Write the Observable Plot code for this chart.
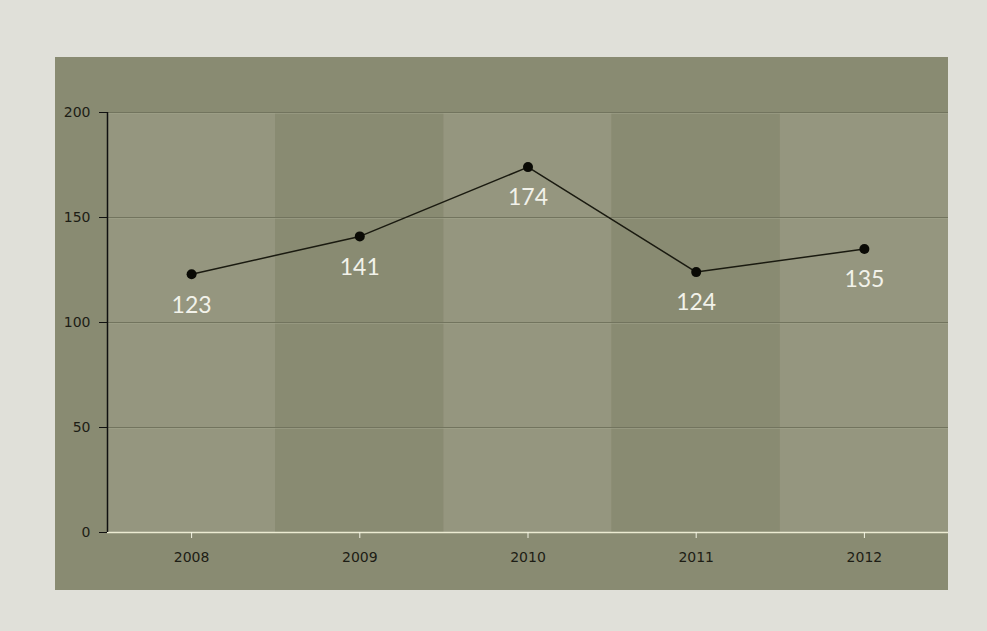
<!DOCTYPE html>
<html>
<head>
<meta charset="utf-8">
<script src="https://cdn.jsdelivr.net/npm/d3@7"></script>
<script src="https://cdn.jsdelivr.net/npm/@observablehq/plot@0.6"></script>
<style>
  html, body { margin: 0; padding: 0; background: #e0e0d9; width: 987px; height: 631px; overflow: hidden; }
  #panel { position: absolute; left: 55px; top: 57px; width: 893px; height: 533px; background: #898b72; }
</style>
</head>
<body>
<div id="panel"></div>
<script>
const years = [2008, 2009, 2010, 2011, 2012];
const values = [123, 141, 174, 124, 135];
const yTicks = [0, 50, 100, 150, 200];
const gridValues = [50, 100, 150, 200];

const data = years.map((year, i) => ({year, value: values[i], shade: i % 2 === 0 ? "light" : "dark"}));

const chart = Plot.plot({
  width: 893,
  height: 533,
  marginLeft: 52,
  marginRight: 0,
  marginTop: 55,
  marginBottom: 58,
  style: {background: "transparent", fontFamily: "'DejaVu Sans', sans-serif", fontSize: "14px", color: "#1d1d15", overflow: "visible"},
  x: {domain: [years[0] - 0.5, years[years.length - 1] + 0.5], axis: null},
  y: {domain: [0, 200], axis: null},
  color: {domain: ["light", "dark"], range: ["#95967f", "#898b72"]},
  marks: [
    Plot.rectY(data, {x1: d => d.year - 0.5, x2: d => d.year + 0.5, y1: 0, y2: 200, fill: "shade"}),
    Plot.ruleY(gridValues, {stroke: "#72745e", strokeWidth: 1}),
    Plot.ruleY(gridValues, {stroke: "#a3a58e", strokeWidth: 1, strokeOpacity: 0.5, dy: 1}),
    Plot.ruleY([0], {stroke: "#ecebd2", strokeWidth: 1.5}),
    Plot.ruleX([years[0] - 0.5], {y1: 0, y2: 200, stroke: "#111", strokeWidth: 1.5}),
    Plot.axisY({ticks: yTicks, tickSize: 8, tickPadding: 9, stroke: "#111", fill: "#1d1d15", fontSize: 14, fontFamily: "'DejaVu Sans', sans-serif", label: null}),
    Plot.axisX({ticks: years, tickFormat: d => String(d), tickSize: 6, tickPadding: 14, stroke: "#f4f4e4", fill: "#1d1d15", fontSize: 14, fontFamily: "'DejaVu Sans', sans-serif", label: null}),
    Plot.line(data, {x: "year", y: "value", stroke: "#1a1a10", strokeWidth: 1.5}),
    Plot.dot(data, {x: "year", y: "value", r: 5, fill: "#0a0a05", stroke: "none"}),
    Plot.text(data, {x: "year", y: "value", text: d => String(d.value), dy: 31, lineAnchor: "middle", fill: "#f2f2ea", fontSize: 23, fontFamily: "Lato, 'Open Sans', sans-serif"})
  ]
});
chart.style.position = "absolute";
chart.style.left = "55px";
chart.style.top = "57px";
chart.style.maxWidth = "none";
document.body.appendChild(chart);
</script>
</body>
</html>
